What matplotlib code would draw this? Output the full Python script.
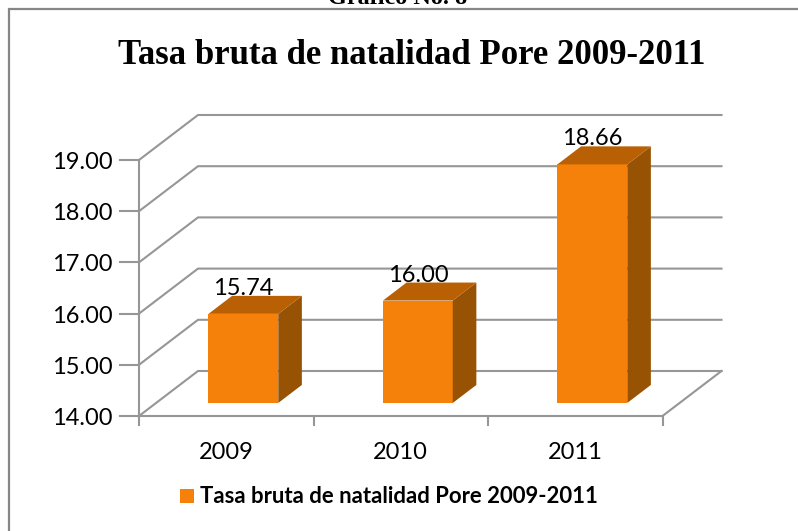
import matplotlib
matplotlib.use("Agg")
import matplotlib.pyplot as plt
from matplotlib.patches import Polygon, Rectangle

years = ["2009", "2010", "2011"]
values = [15.74, 16.00, 18.66]
value_labels = ["15.74", "16.00", "18.66"]
y_ticks = [14, 15, 16, 17, 18, 19]
y_tick_labels = ["14.00", "15.00", "16.00", "17.00", "18.00", "19.00"]
title = "Tasa bruta de natalidad Pore 2009-2011"
legend_label = "Tasa bruta de natalidad Pore 2009-2011"
heading = "Gráfico No. 8"

W, H = 798, 531
PX_CAT, PX_VAL = 174.5, 51.2
X0, Y0 = 139, 416
DX, DY = 59 / PX_CAT, 45 / PX_VAL   # depth offset in data units
BASE = y_ticks[0]
ORANGE, TOP, SIDE = "#F5800A", "#B96004", "#985203"
GRID = "#969696"
SANS = ["Lato", "DejaVu Sans"]
SERIF = ["Liberation Serif", "DejaVu Serif"]

fig = plt.figure(figsize=(W / 100, H / 100), dpi=100)
ax = fig.add_axes([0, 0, 1, 1])
ax.set_xlim(-X0 / PX_CAT, (W - X0) / PX_CAT)
ax.set_ylim(BASE - (H - Y0) / PX_VAL, BASE + Y0 / PX_VAL)
ax.axis("off")


def P(x, v, d=0.0):
    return (x + d * DX, v + d * DY)


def px_x(p):
    return -X0 / PX_CAT + p / PX_CAT


def px_y(p):
    return BASE + (Y0 - p) / PX_VAL


n = len(years)
# outer frame: only left and top edges are visible
ax.plot([px_x(9), px_x(9), px_x(798)], [px_y(531), px_y(9), px_y(9)],
        color="#868686", lw=1.6, zorder=1, solid_joinstyle="miter")
# walls and grid
for t in y_ticks:
    pts = [P(0, t), P(0, t, 1), P(n, t, 1)]
    ax.plot(*zip(*pts), color=GRID, lw=1.5, zorder=2, solid_joinstyle="miter")
    ax.plot([-19 / PX_CAT, 0], [t, t], color=GRID, lw=1.5, zorder=2)
ax.plot(*zip(P(0, BASE), P(n, BASE), P(n, BASE, 1)), color=GRID, lw=1.5, zorder=2)
ax.plot([0, 0], [BASE, y_ticks[-1]], color=GRID, lw=1.5, zorder=2)
for i in range(n + 1):
    ax.plot([i, i], [BASE, BASE - 9 / PX_VAL], color=GRID, lw=1.5, zorder=2)

# bars
BW = 0.40
D1, D2 = 0.29, 0.69
for i, (v, lab, yr) in enumerate(zip(values, value_labels, years)):
    l, r = i + 0.5 - BW / 2, i + 0.5 + BW / 2
    ax.add_patch(Polygon([P(l, BASE, D1), P(r, BASE, D1), P(r, v, D1), P(l, v, D1)],
                         fc=ORANGE, ec="none", zorder=3))
    ax.add_patch(Polygon([P(r, BASE, D1), P(r, BASE, D2), P(r, v, D2), P(r, v, D1)],
                         fc=SIDE, ec="none", zorder=3))
    ax.add_patch(Polygon([P(l, v, D1), P(r, v, D1), P(r, v, D2), P(l, v, D2)],
                         fc=TOP, ec="none", zorder=3))
    tx, ty = P(i + 0.5, v, D2)
    ax.text(i + 0.5 + D1 * DX, ty + 7.5 / PX_VAL, lab, ha="center", va="center", fontsize=17,
            family=SANS, color="black", zorder=4)
    ax.text(i + 0.5, BASE - 36.5 / PX_VAL, yr, ha="center", va="center", fontsize=17,
            family=SANS, color="black", zorder=4)

for t, lab in zip(y_ticks, y_tick_labels):
    ax.text(-26 / PX_CAT, t - 2.5 / PX_VAL, lab, ha="right", va="center", fontsize=17,
            family=SANS, color="black")

ax.text(px_x(411.5), px_y(55), title, ha="center", va="center", fontsize=25, fontweight="bold",
        family=SERIF, color="black")
ax.text(px_x(398), px_y(-2), heading, ha="center", va="center", fontsize=17.5, fontweight="bold",
        family=SERIF, color="black", clip_on=True)

# legend
ax.add_patch(Rectangle((px_x(180), px_y(503)), 14 / PX_CAT, 14 / PX_VAL, fc=ORANGE, ec="none"))
ax.text(px_x(200), px_y(497), legend_label, ha="left", va="center", fontsize=15.9, fontweight="bold",
        family=SANS, color="black")

fig.savefig("out.png", dpi=100)
